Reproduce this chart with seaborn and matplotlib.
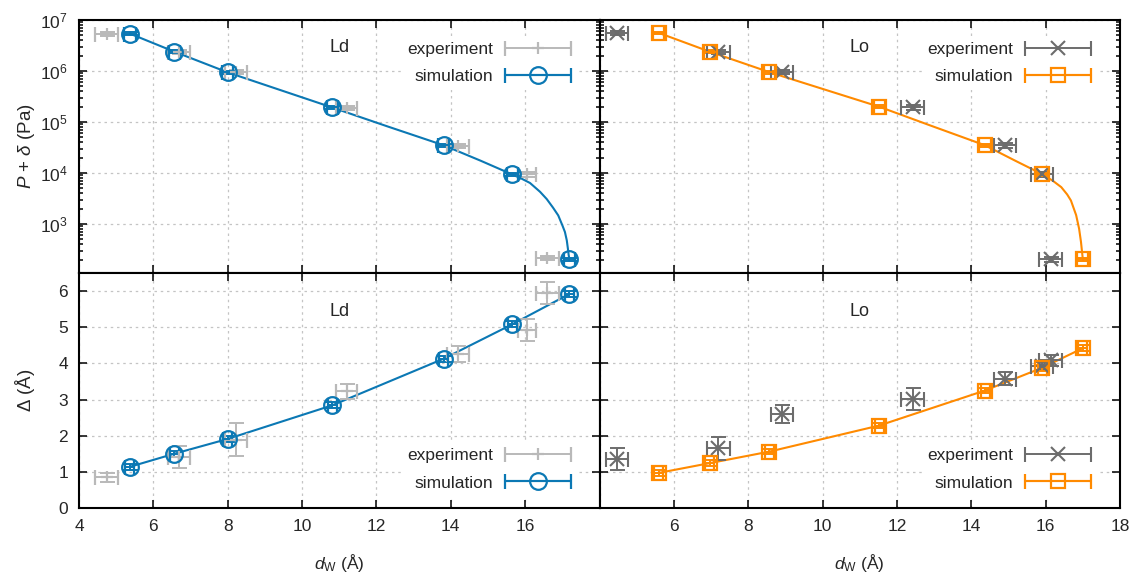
import numpy as np
import seaborn as sns
import matplotlib.pyplot as plt
from matplotlib.container import ErrorbarContainer
from matplotlib.legend_handler import HandlerErrorbar

# ---- data ----

# Ld, simulation (blue circles)
ld_sim_d = [5.37, 6.56, 8.0, 10.81, 13.81, 15.65, 17.19]
ld_sim_p = [5.4e6, 2.4e6, 9.4e5, 1.93e5, 3.5e4, 9.4e3, 205]
ld_sim_delta = [1.14, 1.50, 1.91, 2.84, 4.13, 5.08, 5.92]

# Ld, experiment (light grey)
ld_exp_d = [4.74, 6.69, 8.22, 11.2, 14.2, 16.05, 16.6]
ld_exp_derr = [0.3, 0.3, 0.3, 0.28, 0.3, 0.25, 0.31]
ld_exp_p = [5.4e6, 2.4e6, 9.5e5, 1.9e5, 3.4e4, 9.5e3, 215]
ld_exp_delta = [0.85, 1.42, 1.89, 3.23, 4.25, 4.92, 5.95]
ld_exp_delta_err = [0.12, 0.3, 0.45, 0.21, 0.22, 0.3, 0.3]

# Ld fitted curve for P + delta
ld_fit_d = [5.37, 6.56, 8.0, 10.81, 12.3, 13.81, 14.8, 15.65, 15.9, 16.13, 16.4,
            16.58, 16.75, 16.89, 17.0, 17.07, 17.12, 17.15, 17.17, 17.19]
ld_fit_p = [5.4e6, 2.4e6, 9.4e5, 1.93e5, 8.2e4, 3.5e4, 1.75e4, 9.4e3, 7.8e3,
            6.4e3, 4.3e3, 3.1e3, 2.1e3, 1.48e3, 950, 700, 480, 330, 250, 205]

# Lo, simulation (orange squares)
lo_sim_d = [5.59, 6.96, 8.57, 11.52, 14.37, 15.91, 17.0]
lo_sim_p = [5.6e6, 2.4e6, 9.5e5, 2.0e5, 3.5e4, 9.5e3, 205]
lo_sim_delta = [0.97, 1.24, 1.56, 2.28, 3.25, 3.88, 4.42]

# Lo, experiment (dark grey)
lo_exp_d = [4.47, 7.2, 8.9, 12.42, 14.9, 15.9, 16.14]
lo_exp_derr = [0.3, 0.3, 0.3, 0.31, 0.3, 0.3, 0.31]
lo_exp_p = [5.6e6, 2.4e6, 9.5e5, 1.95e5, 3.5e4, 9.5e3, 205]
lo_exp_delta = [1.35, 1.65, 2.61, 3.02, 3.58, 3.93, 4.09]
lo_exp_delta_err = [0.3, 0.32, 0.25, 0.3, 0.19, 0.12, 0.15]

# Lo fitted curve for P + delta
lo_fit_d = [5.59, 6.96, 8.57, 11.52, 12.95, 14.37, 15.18, 15.91, 16.2, 16.42,
            16.58, 16.68, 16.82, 16.9, 16.95, 16.98, 17.0]
lo_fit_p = [5.6e6, 2.4e6, 9.5e5, 2.0e5, 8.3e4, 3.5e4, 1.75e4, 9.5e3, 7.0e3,
            5.3e3, 3.8e3, 2.9e3, 1.5e3, 810, 450, 280, 205]

x_ticks = [4, 6, 8, 10, 12, 14, 16, 18]

# ---- style ----
sns.set_theme(style="ticks")
plt.rcParams["font.family"] = ["Liberation Sans", "DejaVu Sans"]
plt.rcParams["mathtext.fontset"] = "custom"
plt.rcParams["mathtext.rm"] = "Liberation Sans"
plt.rcParams["mathtext.it"] = "Liberation Sans:italic"
plt.rcParams["font.size"] = 12.5

BLUE = "#0b78b4"
ORANGE = "#ff8a00"
LIGHT = "#b9b9b9"
DARK = "#6c6c6c"
FS = 12.5
CAP = 5.4


def force_line(leg_line, orig):
    # legend sample of the simulation gets a solid line through it
    leg_line.update_from(orig)
    leg_line.set_linestyle("-")


def draw_points(ax, x, y, xerr, yerr, color, marker, ms, mew, label):
    # x errorbars + marker (labelled), y errorbars separately so the legend stays horizontal
    ax.errorbar(x, y, yerr=yerr, fmt="none", ecolor=color, elinewidth=1.4,
                capsize=CAP, capthick=1.4, zorder=3)
    cont = ax.errorbar(x, y, xerr=xerr, fmt=marker, color=color, ms=ms, mew=mew,
                       mfc="none", ecolor=color, elinewidth=1.4, capsize=CAP,
                       capthick=1.4, label=label, zorder=4)
    return cont


fig = plt.figure(figsize=(11.34, 5.83), dpi=100)
gs = fig.add_gridspec(2, 2, left=79 / 1134, right=1120 / 1134, top=1 - 20 / 583,
                      bottom=1 - 508 / 583, hspace=0, wspace=0, height_ratios=[253, 235])
axes = np.array([[fig.add_subplot(gs[i, j]) for j in range(2)] for i in range(2)])

panels = [
    ("Ld", BLUE, "o", 12, LIGHT, "+", 9, 1.6, ld_sim_d, ld_sim_p, ld_sim_delta,
     ld_exp_d, ld_exp_derr, ld_exp_p, ld_exp_delta, ld_exp_delta_err, ld_fit_d, ld_fit_p),
    ("Lo", ORANGE, "s", 10.5, DARK, "x", 10, 1.5, lo_sim_d, lo_sim_p, lo_sim_delta,
     lo_exp_d, lo_exp_derr, lo_exp_p, lo_exp_delta, lo_exp_delta_err, lo_fit_d, lo_fit_p),
]

for col, (name, color, mk, ms, ecol, emk, ems, emew, sd, sp, sdel,
          ed, ederr, ep, edel, edelerr, fd, fp) in enumerate(panels):
    ax_top = axes[0, col]
    ax_bot = axes[1, col]

    # top: P + delta, log scale
    sns.lineplot(x=fd, y=fp, ax=ax_top, color=color, lw=1.5, sort=False,
                 estimator=None, legend=False, zorder=2)
    exp_c = draw_points(ax_top, ed, ep, ederr, [v * 0.1 for v in ep],
                        ecol, emk, ems, emew, "experiment")
    sim_c = draw_points(ax_top, sd, sp, [0.15] * len(sd), [v * 0.06 for v in sp],
                        color, mk, ms, 1.6, "simulation")
    ax_top.set_yscale("log")
    ax_top.set_ylim(110, 1e7)

    # bottom: Delta
    sns.lineplot(x=sd, y=sdel, ax=ax_bot, color=color, lw=1.5, sort=False,
                 estimator=None, legend=False, zorder=2)
    exp_b = draw_points(ax_bot, ed, edel, ederr, edelerr, ecol, emk, ems, emew, "experiment")
    sim_b = draw_points(ax_bot, sd, sdel, [0.12] * len(sd), [0.08] * len(sd),
                        color, mk, ms, 1.6, "simulation")
    ax_bot.set_ylim(0, 6.5)
    ax_bot.set_yticks(range(0, 7))

    for ax, (h1, h2), loc, anchor, ty in [
        (ax_top, (exp_c, sim_c), "upper right", (0.955, 0.935), 0.89),
        (ax_bot, (exp_b, sim_b), "lower right", (0.955, 0.052), 0.835),
    ]:
        ax.set_xlim(4, 18)
        ax.set_xticks(x_ticks)
        ax.grid(True, which="major", ls=(0, (2, 3)), color="#c4c4c4", lw=0.9)
        ax.tick_params(which="both", direction="in", top=True, right=True,
                       width=1.1, labelsize=FS, pad=8, color="black")
        ax.tick_params(which="major", length=6)
        ax.tick_params(which="minor", length=3)
        for sp_ in ax.spines.values():
            sp_.set_linewidth(1.5)
            sp_.set_color("black")
        ax.text(0.5, ty, name, transform=ax.transAxes, fontsize=13,
                ha="center", va="center")
        leg = ax.legend(handles=[h1, h2], loc=loc, bbox_to_anchor=anchor,
                        borderaxespad=0, markerfirst=False, handlelength=3.8,
                        handletextpad=0.7, labelspacing=0.72, fontsize=FS,
                        frameon=True, framealpha=1, facecolor="white",
                        edgecolor="none", fancybox=False, borderpad=0.3,
                        handler_map={h2: HandlerErrorbar(xerr_size=1.9, update_func=force_line),
                                     ErrorbarContainer: HandlerErrorbar(xerr_size=1.9)})
        leg.set_zorder(5)

    ax_top.tick_params(labelbottom=False)
    if col == 1:
        ax_top.tick_params(labelleft=False)
        ax_bot.tick_params(labelleft=False)
        ax_bot.set_xticklabels([""] + [str(t) for t in x_ticks[1:]])
    else:
        ax_bot.set_xticklabels([str(t) for t in x_ticks[:-1]] + [""])
    ax_bot.set_xlabel(r"$d_\mathrm{W}$ (Å)", fontsize=FS, labelpad=13)

axes[0, 0].set_ylabel(r"$P$ + $\delta$ (Pa)", fontsize=13.5)
axes[1, 0].set_ylabel(r"$\mathit{Δ}$ (Å)", fontsize=13.5)
axes[0, 0].yaxis.set_label_coords(-42 / 520, 0.5)
axes[1, 0].yaxis.set_label_coords(-42 / 520, 0.5)

fig.savefig("out.png", dpi=100)
